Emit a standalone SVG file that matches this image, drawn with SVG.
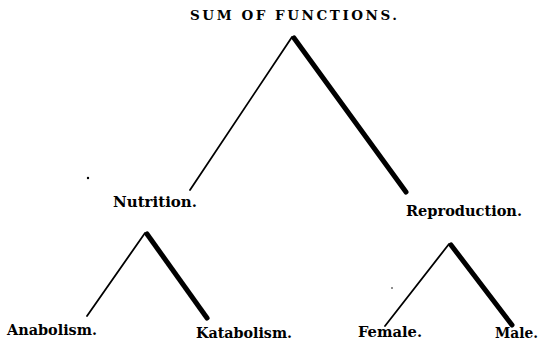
<svg xmlns="http://www.w3.org/2000/svg" width="541" height="351" viewBox="0 0 541 351">
<style>
.t{font-family:"DejaVu Serif","Liberation Serif",serif;font-weight:bold;font-size:14.5px;fill:#000}
.h{font-family:"DejaVu Serif","Liberation Serif",serif;font-weight:bold;font-size:13.5px;fill:#000}
.thin{stroke:#000;stroke-width:1.8;stroke-linecap:round;fill:none}
.thick{stroke:#000;stroke-width:5;stroke-linecap:round;fill:none}
</style>
<rect width="541" height="351" fill="#fff"/>
<g id="connectors">
<line class="thin" x1="292" y1="37" x2="190" y2="190"/>
<line class="thick" x1="294" y1="38" x2="406" y2="192"/>
<line class="thin" x1="145" y1="233" x2="87" y2="316"/>
<line class="thick" x1="147" y1="234" x2="207" y2="318"/>
<line class="thin" x1="449" y1="244" x2="385" y2="326"/>
<line class="thick" x1="451" y1="245" x2="512" y2="325"/>
</g>
<g id="root"><text class="h" x="190" y="20" textLength="207" lengthAdjust="spacing">SUM OF FUNCTIONS.</text></g>
<g id="nutrition"><text class="t" x="113" y="207" textLength="84" lengthAdjust="spacingAndGlyphs">Nutrition.</text></g>
<g id="reproduction"><text class="t" x="406" y="216" textLength="116" lengthAdjust="spacingAndGlyphs">Reproduction.</text></g>
<g id="anabolism"><text class="t" x="7" y="335" textLength="90" lengthAdjust="spacingAndGlyphs">Anabolism.</text></g>
<g id="katabolism"><text class="t" x="196" y="338" textLength="96" lengthAdjust="spacingAndGlyphs">Katabolism.</text></g>
<g id="female"><text class="t" x="358" y="337" textLength="64" lengthAdjust="spacingAndGlyphs">Female.</text></g>
<g id="male"><text class="t" x="495" y="338" textLength="43" lengthAdjust="spacingAndGlyphs">Male.</text></g>
<circle cx="88" cy="178" r="1.2" fill="#000"/>
<circle cx="392" cy="288" r="0.8" fill="#000"/>
</svg>
